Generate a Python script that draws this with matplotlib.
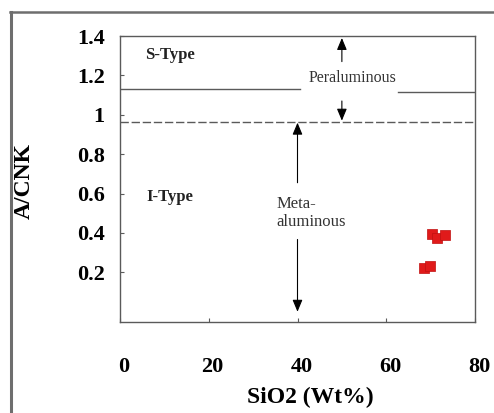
import matplotlib
matplotlib.use("Agg")
import matplotlib.pyplot as plt
from matplotlib.lines import Line2D
import matplotlib.transforms as mtransforms

# Data
sio2 = [70.3, 71.4, 73.2, 68.5, 69.9]
acnk = [0.395, 0.376, 0.39, 0.224, 0.234]
x_ticks = [0, 20, 40, 60, 80]
y_ticks = [0.2, 0.4, 0.6, 0.8, 1.0, 1.2, 1.4]
y_tick_labels = ["0.2", "0.4", "0.6", "0.8", "1", "1.2", "1.4"]
s_line = 1.13       # S/I-type boundary
peral_line = 0.965  # peraluminous/metaluminous boundary

plt.rcParams['font.family'] = ['Liberation Serif', 'DejaVu Serif']

W, H = 494, 413
fig = plt.figure(figsize=(W / 100, H / 100), dpi=100)
# outer frame (left and top edges only)
frame_c = '#6e6e6e'
fig.add_artist(Line2D([10.5 / W, 10.5 / W], [0, 1 - 12 / H], transform=fig.transFigure,
                      color=frame_c, lw=2.2))
fig.add_artist(Line2D([10 / W, 1], [1 - 12 / H, 1 - 12 / H], transform=fig.transFigure,
                      color=frame_c, lw=1.8))

ax = fig.add_axes([120 / W, 1 - 322 / H, 355 / W, 286 / H])
ax.set_xlim(0, 80)
ax.set_ylim(-0.052, 1.4)
line_c = '#5a5a5a'
for s in ax.spines.values():
    s.set_color(line_c)
    s.set_linewidth(1.0)

ax.set_xticks(x_ticks)
ax.set_xticklabels([str(v) for v in x_ticks], fontsize=16, fontweight='bold')
ax.set_yticks(y_ticks)
ax.set_yticklabels(y_tick_labels, fontsize=16, fontweight='bold')
ax.tick_params(axis='x', direction='in', length=3, color=line_c, pad=25)
ax.tick_params(axis='y', direction='in', length=3, color=line_c, pad=11)
# shift x tick labels slightly right, as in the reference
offset = mtransforms.ScaledTranslation(4 / 100, 0, fig.dpi_scale_trans)
for lab in ax.get_xticklabels():
    lab.set_transform(lab.get_transform() + offset)

# boundary lines
ax.plot([0, 40.5], [s_line, s_line], color=line_c, lw=1.0)
ax.plot([62.7, 80], [s_line - 0.012, s_line - 0.012], color=line_c, lw=1.0)
ax.plot([0, 80], [peral_line, peral_line], color=line_c, lw=1.0, ls=(0, (6, 2)))

arrow_kw = dict(arrowstyle='-|>,head_length=0.6,head_width=0.25', color='black',
                lw=0.8, mutation_scale=12, shrinkA=0, shrinkB=0)
# Peraluminous arrows
ax.annotate('', xy=(50, 1.39), xytext=(50, 1.27), arrowprops=arrow_kw)
ax.annotate('', xy=(50, peral_line + 0.005), xytext=(50, 1.07), arrowprops=arrow_kw)
ax.text(52.3, 1.185, 'Peraluminous', fontsize=11.5, ha='center', va='center', color='#333333')

# Metaluminous arrows
ax.annotate('', xy=(40, peral_line - 0.005), xytext=(40, 0.655), arrowprops=arrow_kw)
ax.annotate('', xy=(40, 0.0), xytext=(40, 0.367), arrowprops=arrow_kw)
ax.text(35.3, 0.50, 'Meta-\naluminous', fontsize=12, ha='left', va='center',
        color='#333333', linespacing=1.2)

ax.text(5.6, 1.305, 'S-Type', fontsize=12, fontweight='bold', ha='left', va='center', color='#222222')
ax.text(5.9, 0.585, 'I-Type', fontsize=12, fontweight='bold', ha='left', va='center', color='#222222')

ax.scatter(sio2, acnk, marker='s', s=55, color='#e01a1a', edgecolors='#c01010',
           linewidths=0.5, zorder=5)

fig.text(24 / W, 1 - 181 / H, 'A/CNK', fontsize=17, fontweight='bold', rotation=90,
         ha='center', va='center')
fig.text(310 / W, 1 - 397 / H, 'SiO2 (Wt%)', fontsize=17, fontweight='bold',
         ha='center', va='center')

fig.savefig('out.png', dpi=100)
